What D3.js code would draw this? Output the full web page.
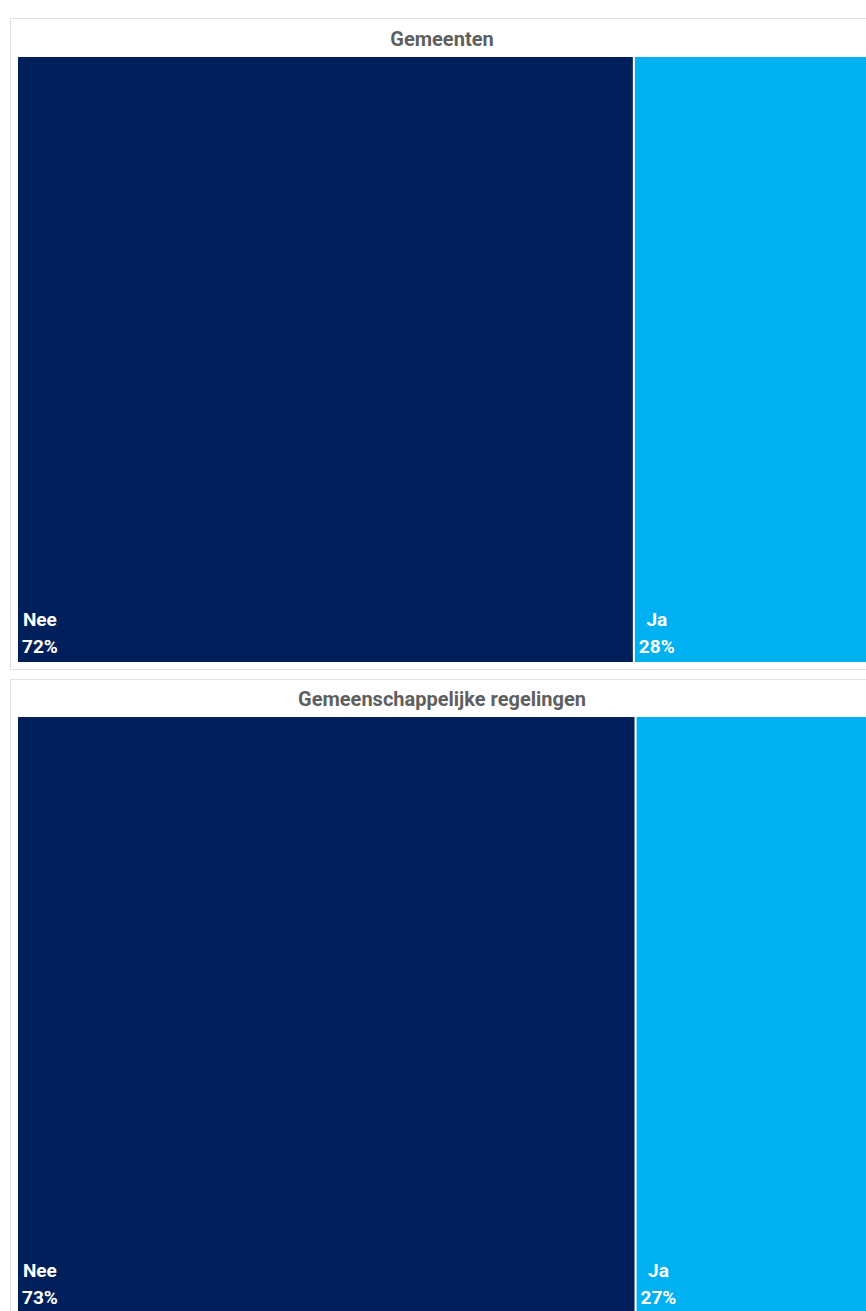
<!DOCTYPE html>
<html><head><meta charset="utf-8">
<script src="https://cdn.jsdelivr.net/npm/d3@7"></script>
<style>
html,body{margin:0;padding:0;background:#fff;overflow:hidden;}
svg{display:block;}
</style></head>
<body>
<svg id="chart" width="866" height="1311"></svg>
<script>
// Data
const panelTitles = ["Gemeenten", "Gemeenschappelijke regelingen"];
const categories = ["Nee", "Ja"];
const gemeentenValues = [72.4, 27.6];
const regelingenValues = [72.6, 27.4];
const seriesValues = [gemeentenValues, regelingenValues];
const colors = ["#001f5b", "#00b0f0"];

const svg = d3.select("#chart");
const font = "Roboto, 'Liberation Sans', sans-serif";
const panels = [
  {x: 10.5, y: 18.5, w: 866, h: 651, rectTop: 57, rectBottom: 662},
  {x: 10.5, y: 679.5, w: 866, h: 642, rectTop: 717, rectBottom: 1313}
];
const rectLeft = 18, rectRight = 868;
const fmt = v => Math.round(v) + "%";

panels.forEach((p, i) => {
  const g = svg.append("g");
  g.append("rect").attr("x", p.x).attr("y", p.y).attr("width", p.w).attr("height", p.h)
    .attr("fill", "#fff").attr("stroke", "#e1e1e1").attr("stroke-width", 1);
  g.append("text").attr("x", 442).attr("y", p.rectTop - 11)
    .attr("text-anchor", "middle").attr("font-family", font).attr("font-weight", 700)
    .attr("font-size", 20).attr("fill", "#5f5f5f").text(panelTitles[i]);

  const root = d3.hierarchy({children: categories.map((c, k) => ({name: c, value: seriesValues[i][k]}))})
    .sum(d => d.value || 0);
  d3.treemap().tile(d3.treemapDice).size([rectRight - rectLeft, p.rectBottom - p.rectTop]).paddingInner(2)(root);

  const leaves = g.append("g").attr("transform", `translate(${rectLeft},${p.rectTop})`)
    .selectAll("g").data(root.leaves()).join("g");
  leaves.append("rect").attr("x", d => d.x0).attr("y", d => d.y0)
    .attr("width", d => d.x1 - d.x0).attr("height", d => d.y1 - d.y0)
    .attr("fill", (d, k) => colors[k]);
  leaves.each(function(d) {
    const lg = d3.select(this);
    const t1 = lg.append("text").attr("font-family", font).attr("font-weight", 700)
      .attr("font-size", 19).attr("fill", "#fff").attr("text-anchor", "middle").text(d.data.name);
    const t2 = lg.append("text").attr("font-family", font).attr("font-weight", 700)
      .attr("font-size", 19).attr("fill", "#fff").attr("text-anchor", "middle").text(fmt(d.data.value));
    const w = Math.max(t1.node().getComputedTextLength(), t2.node().getComputedTextLength());
    const cx = d.x0 + 4 + w / 2;
    t1.attr("x", cx).attr("y", d.y1 - 36);
    t2.attr("x", cx).attr("y", d.y1 - 9);
  });
});
</script>
</body></html>
